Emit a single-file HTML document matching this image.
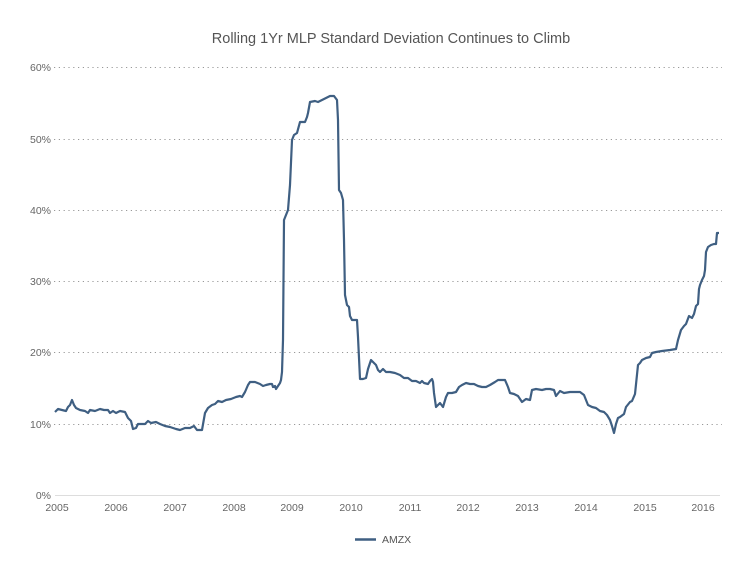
<!DOCTYPE html>
<html><head><meta charset="utf-8"><style>
html,body{margin:0;padding:0;background:#fff;}
svg{display:block;font-family:"Liberation Sans",sans-serif;}
</style></head><body>
<svg width="750" height="570" viewBox="0 0 750 570">
<text x="391" y="43" font-size="14.5" fill="#555" text-anchor="middle">Rolling 1Yr MLP Standard Deviation Continues to Climb</text>
<g stroke="#999" stroke-width="1" stroke-dasharray="1.2,3.6">
<line x1="54" y1="67.5" x2="722" y2="67.5"/>
<line x1="54" y1="139.5" x2="722" y2="139.5"/>
<line x1="54" y1="210.5" x2="722" y2="210.5"/>
<line x1="54" y1="281.5" x2="722" y2="281.5"/>
<line x1="54" y1="352.5" x2="722" y2="352.5"/>
<line x1="54" y1="424.5" x2="722" y2="424.5"/>
</g>
<line x1="55" y1="495.5" x2="720" y2="495.5" stroke="#ddd" stroke-width="1"/>
<g font-size="10.5" fill="#666" text-anchor="end">
<text x="51" y="71">60%</text><text x="51" y="143">50%</text><text x="51" y="214">40%</text>
<text x="51" y="285">30%</text><text x="51" y="356">20%</text><text x="51" y="428">10%</text><text x="51" y="499">0%</text>
</g>
<g font-size="10.5" fill="#666" text-anchor="middle">
<text x="57" y="511">2005</text><text x="116" y="511">2006</text><text x="175" y="511">2007</text>
<text x="234" y="511">2008</text><text x="292" y="511">2009</text><text x="351" y="511">2010</text>
<text x="410" y="511">2011</text><text x="468" y="511">2012</text><text x="527" y="511">2013</text>
<text x="586" y="511">2014</text><text x="645" y="511">2015</text><text x="703" y="511">2016</text>
</g>
<polyline fill="none" stroke="#3f5f82" stroke-width="2.2" stroke-linejoin="round" points="55,412 58,409 62,410 66,411 68,407 70,405 72,400 74,405 76,408 80,410 85,411 88,413 90,410 95,411 100,409 104,410 108,410 110,413 113,411 116,413 120,411 125,412 128,418 131,421 133,429 136,428 138,424 142,424 145,424 148,421 151,423 156,422 160,424 165,426 170,427 173,428 176,429 180,430 185,428 190,428 194,426 197,430 202,430 205,413 208,408 212,405 215,404 218,401 222,402 226,400 231,399 236,397 240,396 242,397 245,392 248,385 250,382 255,382 260,384 263,386 266,385 270,384 272,384 273,387 275,386 276,389 278,386 280,383 281,380 282,372 283,340 284,220 286,215 288,210 290,185 292,140 294,135 297,133 300,122 305,122 307,117 308,113 310,102 315,101 318,102 322,100 326,98 330,96 334,96 337,100 338,120 339,190 341,193 343,200 344,240 345,295 347,305 349,307 350,316 352,320 355,320 357,320 358,337 360,379 363,379 366,378 368,369 371,360 373,362 376,365 378,370 380,372 383,369 386,372 390,372 395,373 400,375 404,378 408,378 412,381 416,381 420,383 422,381 424,383 428,384 430,381 432,379 433,382 434,393 436,407 440,403 443,407 446,397 448,393 452,393 456,392 459,387 462,385 466,383 470,384 474,384 478,386 482,387 486,387 490,385 495,382 498,380 502,380 505,380 508,387 510,393 514,394 518,396 522,402 526,399 530,400 532,390 536,389 542,390 546,389 550,389 554,390 556,396 560,391 564,393 570,392 580,392 584,395 586,400 588,405 592,407 596,408 600,411 604,412 607,415 610,420 612,426 614,433 616,424 618,418 620,417 624,414 626,407 630,402 632,401 635,394 638,365 640,363 642,360 646,358 650,357 652,353 656,352 662,351 670,350 676,349 678,340 681,330 684,326 686,324 689,316 692,318 694,314 696,306 698,304 699,289 700,285 702,280 704,276 705,270 706,252 708,247 711,245 714,244 716,244 717,233 719,233"/>
<line x1="355" y1="539.5" x2="376" y2="539.5" stroke="#3f5f82" stroke-width="2.5"/>
<text x="382" y="543" font-size="10.5" fill="#555">AMZX</text>
</svg>
</body></html>
